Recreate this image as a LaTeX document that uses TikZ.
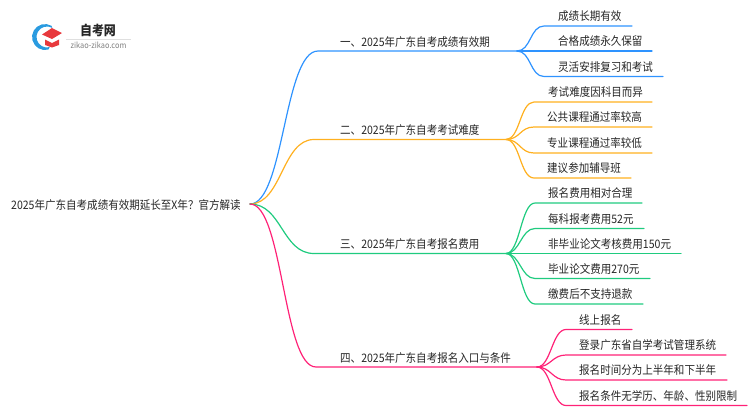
\documentclass[tikz,border=0pt]{standalone}
\usepackage{fontspec}
\setmainfont[FakeStretch=0.9]{Noto Sans CJK SC}
\definecolor{cblue}{HTML}{2E93FF}
\definecolor{corange}{HTML}{FFB01F}
\definecolor{cgreen}{HTML}{1FCB7F}
\definecolor{cpink}{HTML}{FF2277}
\definecolor{ctext}{HTML}{262626}
\definecolor{lblue}{HTML}{2A9BE0}
\definecolor{lred}{HTML}{E8393D}
\tikzset{
  lbl/.style={anchor=base west,inner sep=0pt,font=\fontsize{11.7}{13}\selectfont,text=ctext},
  br/.style={line width=1.2pt,line cap=round},
}
\newcommand{\curve}[2]{.. controls +(#1,0) and +(-#1,0) .. (#2)}
\begin{document}
\begin{tikzpicture}[x=1pt,y=-1pt]
\useasboundingbox (0,0) rectangle (750,410);
% logo
\fill[lblue] (48.4,49.6) arc[start angle=75,end angle=300,radius=13] -- (52.25,27.9) arc[start angle=300,end angle=75,radius=10.5] -- cycle;
\fill[lred] (42,34.5) -- (52,28) -- (62,33) -- (52,39) -- cycle;
\fill[lred] (45,39.5) -- (52,43) -- (59,39.5) -- (59,45) -- (52,47.5) -- (45,45) -- cycle;
\node[inner sep=0pt,font=\fontsize{13.3}{14}\selectfont\bfseries,text=ctext] (logot) at (98,30.5) {自考网};
\node[inner sep=0pt,font=\fontsize{8.2}{9}\selectfont,text=gray] (logou) at (98.5,45) {zikao-zikao.com};
\coordinate (rl1) at (66,39); \coordinate (rl2) at (131,39);
\draw[gray!25,line width=.5pt] (rl1) -- (rl2);
% root
\node[lbl] (root) at (11,209.5) {2025年广东自考成绩有效期延长至X年？官方解读};
\coordinate (R) at (250,204);
% main
\coordinate (A) at (517,51); \coordinate (As) at (318,51);
\coordinate (B) at (506,139.5); \coordinate (Bs) at (314,139.5);
\coordinate (C) at (506,253.5); \coordinate (Cs) at (314,253.5);
\coordinate (D) at (537,367); \coordinate (Ds) at (316,367);
\draw[br,cblue] (R) \curve{34}{As} -- (A);
\draw[br,corange] (R) \curve{32}{Bs} -- (B);
\draw[br,cgreen] (R) \curve{32}{Cs} -- (C);
\draw[br,cpink] (R) \curve{33}{Ds} -- (D);
\node[lbl] (a) at (340,46) {一、2025年广东自考成绩有效期};
\node[lbl] (b) at (340,134) {二、2025年广东自考考试难度};
\node[lbl] (c) at (340,248) {三、2025年广东自考报名费用};
\node[lbl] (d) at (340,362) {四、2025年广东自考报名入口与条件};
% leaves
\foreach \name/\src/\col/\sx/\y/\ex/\tx/\txt in {
 a1/A/cblue/544/26/632/558/成绩长期有效,
 a2/A/cblue/544/51/652/558/合格成绩永久保留,
 a3/A/cblue/544/76.5/663/558/灵活安排复习和考试,
 b1/B/corange/534/102/652/548/考试难度因科目而异,
 b2/B/corange/534/127/652/547/公共课程通过率较高,
 b3/B/corange/534/153/652/547/专业课程通过率较低,
 b4/B/corange/534/178/631/547/建议参加辅导班,
 c1/C/cgreen/535/203/642/548/报名费用相对合理,
 c2/C/cgreen/535/228.5/644/548/每科报考费用52元,
 c3/C/cgreen/535/253.5/681/548/非毕业论文考核费用150元,
 c4/C/cgreen/535/278.5/650/548/毕业论文费用270元,
 c5/C/cgreen/535/304/643/548/缴费后不支持退款,
 d1/D/cpink/566/329.5/632/579/线上报名,
 d2/D/cpink/566/355/726/579/登录广东省自学考试管理系统,
 d3/D/cpink/566/380/727/579/报名时间分为上半年和下半年,
 d4/D/cpink/566/405.5/747/579/报名条件无学历、年龄、性别限制}{
  \coordinate (\name s) at (\sx,\y);
  \coordinate (\name e) at (\ex,\y);
  \draw[br,\col] (\src) \curve{14}{\name s} -- (\name e);
  \node[lbl] (\name) at (\tx,\y-5.5) {\txt};
}
\end{tikzpicture}
\end{document}
